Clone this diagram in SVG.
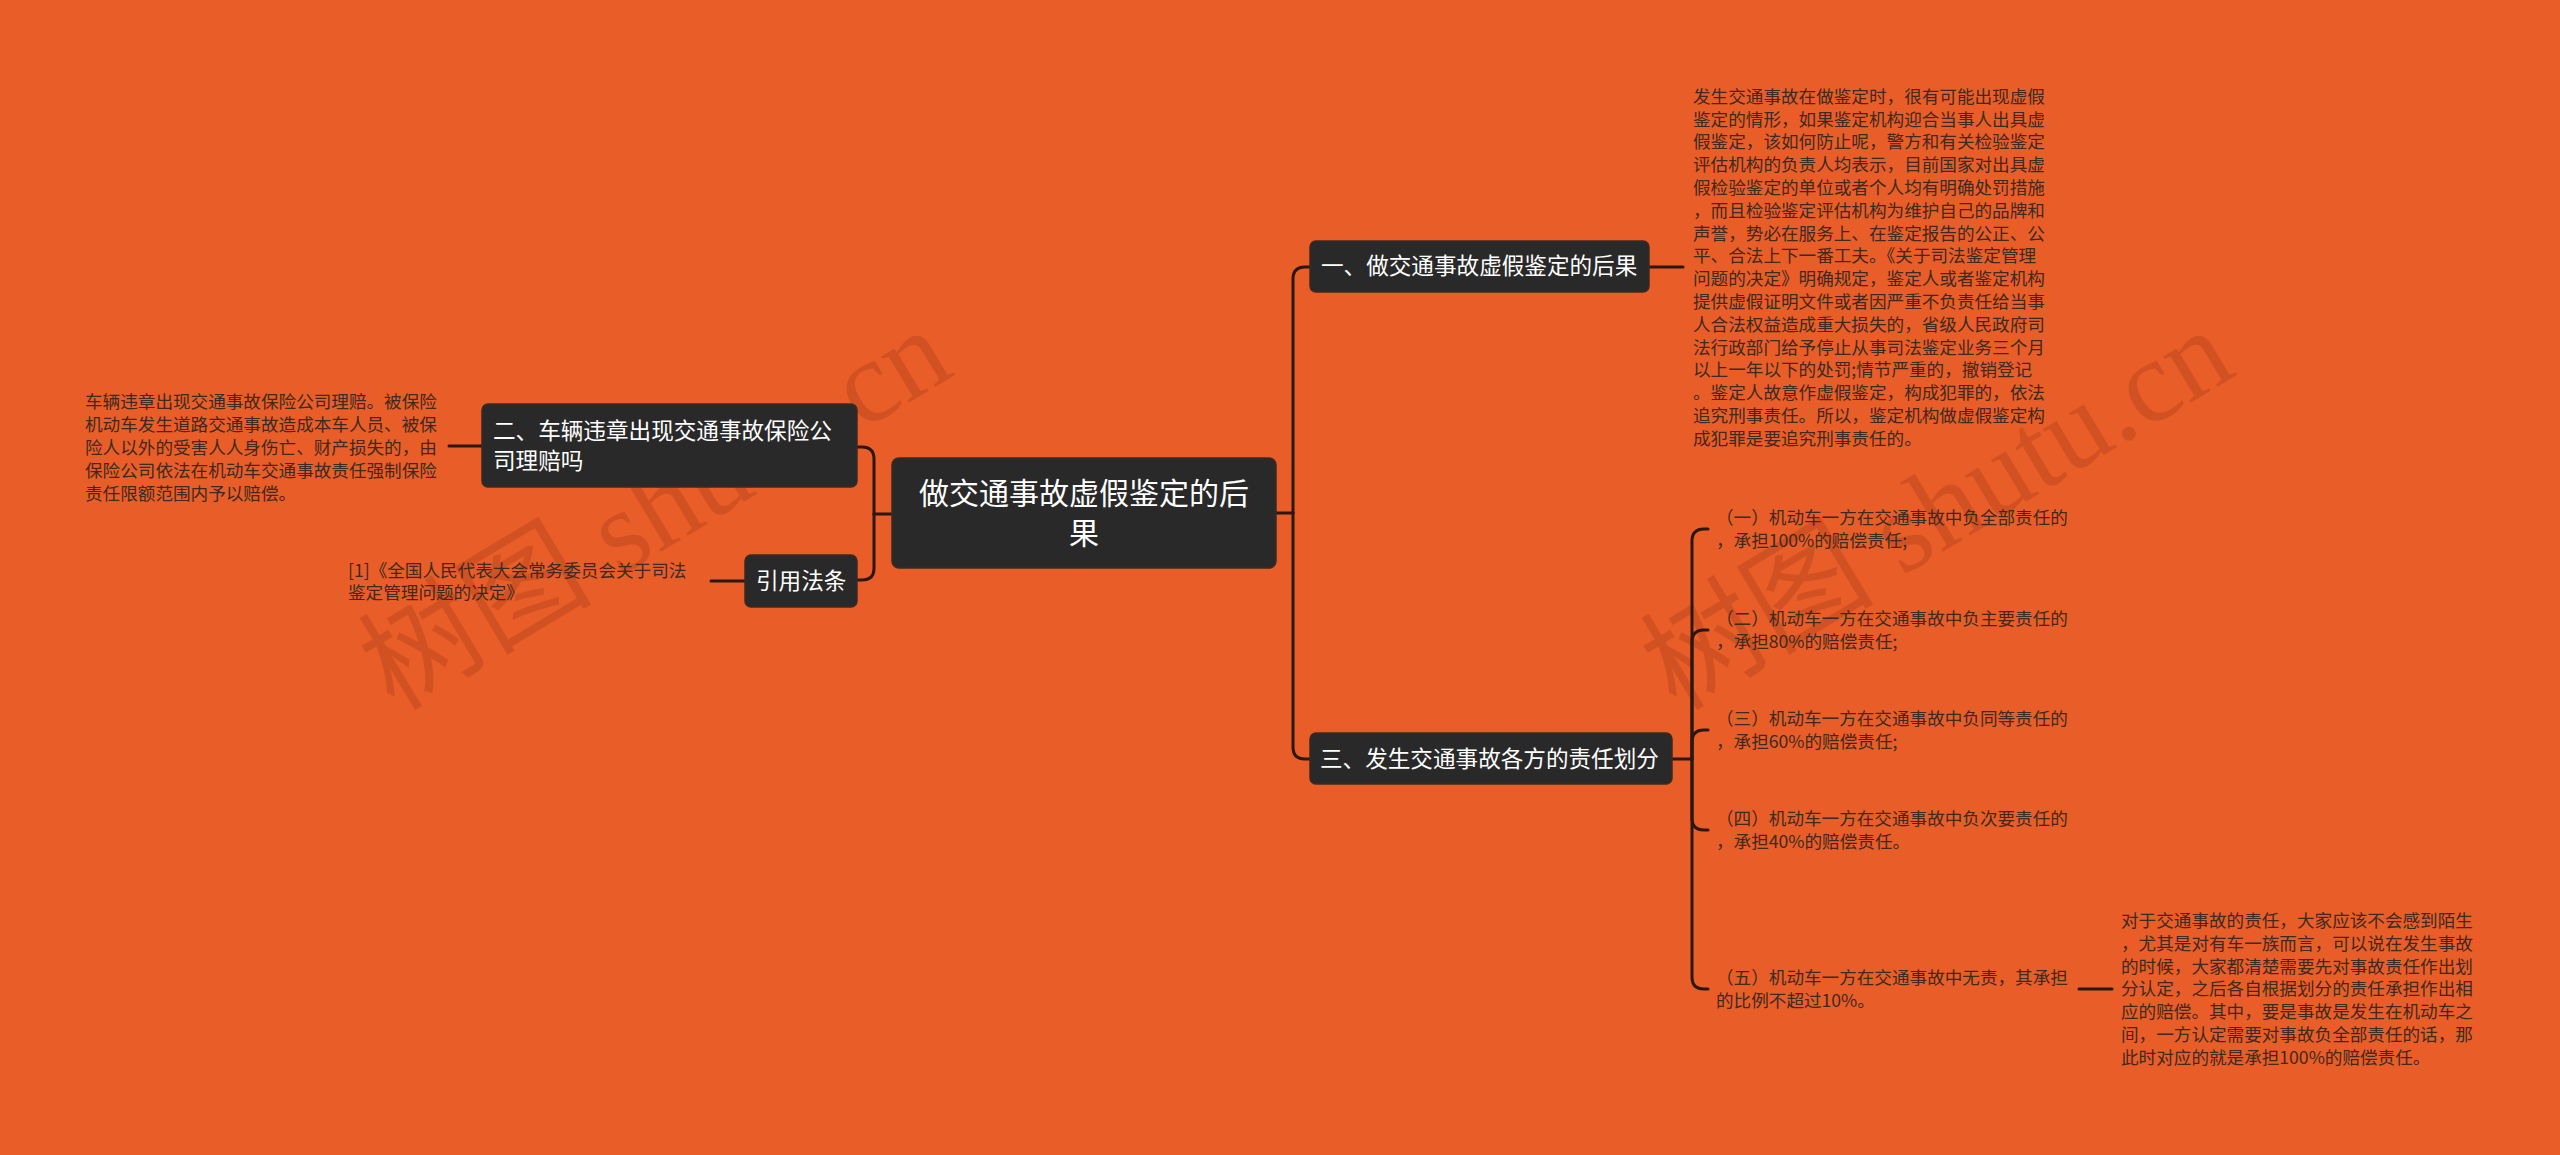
<svg xmlns="http://www.w3.org/2000/svg" width="2560" height="1155" viewBox="0 0 2560 1155">
<defs>
<style>
.bg{fill:#E95D28}
.node rect{fill:#2A2929;stroke:#3b2a22;stroke-width:1.5}
.nt{fill:#FFFFFF;font-family:"Noto Sans CJK SC","Noto Sans",sans-serif}
.lt{fill:#3d2a20;font-family:"Noto Sans CJK SC","Noto Sans",sans-serif;font-size:17.6px}
.conn path{fill:none;stroke:#2a1810;stroke-width:3;stroke-linecap:round}
.wm{fill:#8c2f10;opacity:0.24;font-family:"Liberation Serif","Noto Sans CJK SC",serif;font-size:117px}
</style>
</defs>
<rect class="bg" x="0" y="0" width="2560" height="1155"/>

<g id="watermarks">
<text class="wm" x="394" y="712" transform="rotate(-31 394 712)">树图 shutu.cn</text>
<text class="wm" x="1676" y="712" transform="rotate(-31 1676 712)">树图 shutu.cn</text>
</g>

<g id="connectors" class="conn">
<path d="M1276 513 H1293"/>
<path d="M1293 513 V279 Q1293 267 1305 267 H1310"/>
<path d="M1293 513 V747 Q1293 759 1305 759 H1310"/>
<path d="M892 514 H874"/>
<path d="M874 514 V459 Q874 447 862 447 H857"/>
<path d="M874 514 V568 Q874 580 862 580 H857"/>
<path d="M1649 267 H1683"/>
<path d="M1672 759 H1692"/>
<path d="M1692 759 V541 Q1692 529 1704 529 H1708"/>
<path d="M1692 759 V642 Q1692 630 1704 630 H1708"/>
<path d="M1692 759 V742 Q1692 730 1704 730 H1708"/>
<path d="M1692 759 V818 Q1692 830 1704 830 H1708"/>
<path d="M1692 759 V977 Q1692 989 1704 989 H1708"/>
<path d="M2079 989 H2112"/>
<path d="M482 446 H449"/>
<path d="M745 581 H711"/>
</g>

<g id="center" class="node">
<rect x="892" y="458" width="384" height="110" rx="7"/>
<text class="nt" font-size="30" text-anchor="middle" x="1084" y="504">做交通事故虚假鉴定的后</text>
<text class="nt" font-size="30" text-anchor="middle" x="1084" y="544">果</text>
</g>

<g id="n1" class="node">
<rect x="1310" y="241" width="339" height="51" rx="6"/>
<text class="nt" font-size="22.6" x="1321" y="274">一、做交通事故虚假鉴定的后果</text>
</g>

<g id="n3" class="node">
<rect x="1310" y="733" width="362" height="51" rx="6"/>
<text class="nt" font-size="22.6" x="1320" y="767">三、发生交通事故各方的责任划分</text>
</g>

<g id="n2" class="node">
<rect x="482" y="404" width="375" height="83" rx="6"/>
<text class="nt" font-size="22.6" x="493" y="439">二、车辆违章出现交通事故保险公</text>
<text class="nt" font-size="22.6" x="493" y="469">司理赔吗</text>
</g>

<g id="n4" class="node">
<rect x="745" y="555" width="112" height="52" rx="6"/>
<text class="nt" font-size="22.6" x="756" y="589">引用法条</text>
</g>

<g id="leaf1">
<text class="lt" x="1693" y="102.8">发生交通事故在做鉴定时，很有可能出现虚假</text>
<text class="lt" x="1693" y="125.6">鉴定的情形，如果鉴定机构迎合当事人出具虚</text>
<text class="lt" x="1693" y="148.4">假鉴定，该如何防止呢，警方和有关检验鉴定</text>
<text class="lt" x="1693" y="171.2">评估机构的负责人均表示，目前国家对出具虚</text>
<text class="lt" x="1693" y="194">假检验鉴定的单位或者个人均有明确处罚措施</text>
<text class="lt" x="1693" y="216.8">，而且检验鉴定评估机构为维护自己的品牌和</text>
<text class="lt" x="1693" y="239.6">声誉，势必在服务上、在鉴定报告的公正、公</text>
<text class="lt" x="1693" y="262.4">平、合法上下一番工夫。《关于司法鉴定管理</text>
<text class="lt" x="1693" y="285.2">问题的决定》明确规定，鉴定人或者鉴定机构</text>
<text class="lt" x="1693" y="308">提供虚假证明文件或者因严重不负责任给当事</text>
<text class="lt" x="1693" y="330.8">人合法权益造成重大损失的，省级人民政府司</text>
<text class="lt" x="1693" y="353.6">法行政部门给予停止从事司法鉴定业务三个月</text>
<text class="lt" x="1693" y="376.4">以上一年以下的处罚;情节严重的，撤销登记</text>
<text class="lt" x="1693" y="399.2">。鉴定人故意作虚假鉴定，构成犯罪的，依法</text>
<text class="lt" x="1693" y="422">追究刑事责任。所以，鉴定机构做虚假鉴定构</text>
<text class="lt" x="1693" y="444.8">成犯罪是要追究刑事责任的。</text>
</g>

<g id="leaf2">
<text class="lt" x="85" y="408.4">车辆违章出现交通事故保险公司理赔。被保险</text>
<text class="lt" x="85" y="431.2">机动车发生道路交通事故造成本车人员、被保</text>
<text class="lt" x="85" y="454">险人以外的受害人人身伤亡、财产损失的，由</text>
<text class="lt" x="85" y="476.8">保险公司依法在机动车交通事故责任强制保险</text>
<text class="lt" x="85" y="499.6">责任限额范围内予以赔偿。</text>
</g>

<g id="leaf3">
<text class="lt" x="348" y="576.6">[1]《全国人民代表大会常务委员会关于司法</text>
<text class="lt" x="348" y="599.4">鉴定管理问题的决定》</text>
</g>

<g id="item1">
<text class="lt" x="1716" y="523.9">（一）机动车一方在交通事故中负全部责任的</text>
<text class="lt" x="1716" y="546.7">，承担100%的赔偿责任;</text>
</g>
<g id="item2">
<text class="lt" x="1716" y="624.9">（二）机动车一方在交通事故中负主要责任的</text>
<text class="lt" x="1716" y="647.7">，承担80%的赔偿责任;</text>
</g>
<g id="item3">
<text class="lt" x="1716" y="724.9">（三）机动车一方在交通事故中负同等责任的</text>
<text class="lt" x="1716" y="747.7">，承担60%的赔偿责任;</text>
</g>
<g id="item4">
<text class="lt" x="1716" y="824.9">（四）机动车一方在交通事故中负次要责任的</text>
<text class="lt" x="1716" y="847.7">，承担40%的赔偿责任。</text>
</g>
<g id="item5">
<text class="lt" x="1716" y="983.9">（五）机动车一方在交通事故中无责，其承担</text>
<text class="lt" x="1716" y="1006.7">的比例不超过10%。</text>
</g>

<g id="leaf5">
<text class="lt" x="2121" y="926.9">对于交通事故的责任，大家应该不会感到陌生</text>
<text class="lt" x="2121" y="949.7">，尤其是对有车一族而言，可以说在发生事故</text>
<text class="lt" x="2121" y="972.5">的时候，大家都清楚需要先对事故责任作出划</text>
<text class="lt" x="2121" y="995.3">分认定，之后各自根据划分的责任承担作出相</text>
<text class="lt" x="2121" y="1018.1">应的赔偿。其中，要是事故是发生在机动车之</text>
<text class="lt" x="2121" y="1040.9">间，一方认定需要对事故负全部责任的话，那</text>
<text class="lt" x="2121" y="1063.7">此时对应的就是承担100%的赔偿责任。</text>
</g>
</svg>
